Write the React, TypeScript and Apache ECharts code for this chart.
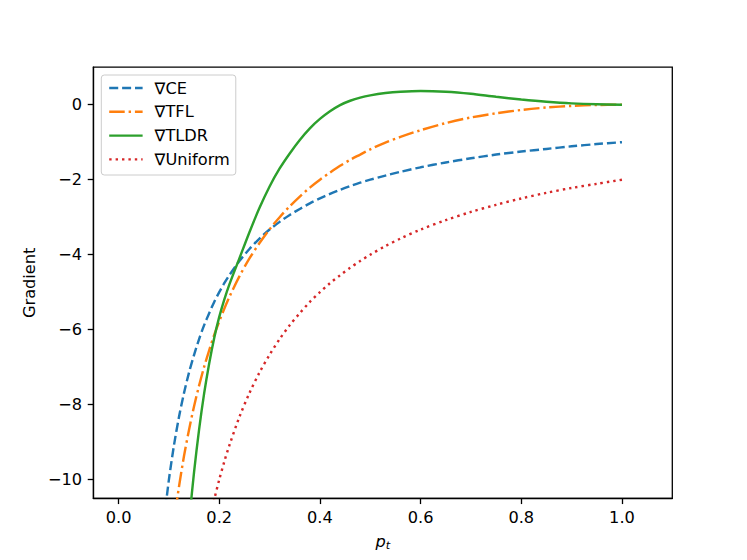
import React, { useEffect, useRef } from "react";
import * as echarts from "echarts";

const P = [0.09, 0.1, 0.11, 0.12, 0.13, 0.14, 0.15, 0.16, 0.17, 0.18, 0.19, 0.2, 0.21, 0.22, 0.24, 0.26, 0.28, 0.3, 0.32, 0.34, 0.36, 0.38, 0.4, 0.42, 0.44, 0.46, 0.48, 0.5, 0.53, 0.56, 0.6, 0.65, 0.7, 0.75, 0.8, 0.85, 0.9, 0.95, 1.0];

const CE = [-11.11, -10.0, -9.09, -8.33, -7.69, -7.14, -6.67, -6.25, -5.88, -5.56, -5.26, -5.0, -4.76, -4.55, -4.17, -3.85, -3.57, -3.33, -3.125, -2.94, -2.78, -2.63, -2.5, -2.38, -2.27, -2.17, -2.08, -2.0, -1.89, -1.79, -1.67, -1.54, -1.43, -1.33, -1.25, -1.18, -1.11, -1.05, -1.0];

const TFL = [null, -12.24, -11.13, -10.19, -9.37, -8.67, -8.04, -7.49, -6.99, -6.55, -6.14, -5.78, -5.44, -5.13, -4.58, -4.1, -3.69, -3.32, -3.0, -2.71, -2.45, -2.21, -2.0, -1.81, -1.63, -1.47, -1.33, -1.19, -1.01, -0.86, -0.68, -0.49, -0.34, -0.23, -0.14, -0.075, -0.032, -0.008, 0];

const TLDR = [null, null, null, null, null, -11.14, -9.79, -8.66, -7.7, -6.9, -6.22, -5.66, -5.2, -4.8, -4.1, -3.4, -2.75, -2.18, -1.7, -1.3, -0.94, -0.63, -0.38, -0.175, -0.01, 0.105, 0.19, 0.25, 0.31, 0.345, 0.365, 0.345, 0.29, 0.21, 0.14, 0.08, 0.035, 0.01, 0];

const UNIFORM = [null, null, null, null, null, null, null, null, -11.76, -11.11, -10.53, -10.0, -9.52, -9.09, -8.33, -7.69, -7.14, -6.67, -6.25, -5.88, -5.56, -5.26, -5.0, -4.76, -4.55, -4.35, -4.17, -4.0, -3.77, -3.57, -3.33, -3.08, -2.86, -2.67, -2.5, -2.35, -2.22, -2.11, -2.0];

const SERIES_NAMES = ["\u2207CE", "\u2207TFL", "\u2207TLDR", "\u2207Uniform"];
const X_TICKS = [0, 0.2, 0.4, 0.6, 0.8, 1.0];
const Y_TICKS = [-10, -8, -6, -4, -2, 0];

const FONT = "DejaVu Sans";
const LW = 2.43;

function pairs(ys: (number | null)[]) {
  return P.map((p, i) => [p, ys[i]]);
}

export default function App() {
  const ref = useRef<HTMLDivElement>(null);
  useEffect(() => {
    if (!ref.current) return;
    const chart = echarts.init(ref.current, undefined, { renderer: "svg" });
    const mk = (name: string, ys: (number | null)[], color: string, dash: any) => ({
      name,
      type: "line",
      data: pairs(ys),
      symbol: "none",
      showSymbol: false,
      smooth: 0.3,
      clip: true,
      lineStyle: { color, width: LW, type: dash, cap: "butt" },
      itemStyle: { color },
    });
    chart.setOption({
      animation: false,
      backgroundColor: "#ffffff",
      textStyle: { fontFamily: FONT },
      grid: {
        left: 93.4,
        right: 74.7,
        top: 67.2,
        bottom: 61.6,
        show: true,
        borderColor: "#000000",
        borderWidth: 1.3,
        backgroundColor: "transparent",
        containLabel: false,
        outerBoundsMode: "none",
      },
      legend: {
        orient: "vertical",
        left: 101.3,
        top: 75,
        data: SERIES_NAMES,
        itemWidth: 33.4,
        itemHeight: 16,
        itemGap: 7.8,
        padding: [5, 6, 7.6, 6.7],
        backgroundColor: "rgba(255,255,255,0.8)",
        borderColor: "#cccccc",
        borderWidth: 1,
        borderRadius: 3,
        itemStyle: { opacity: 0, borderWidth: 0 },
        lineStyle: { width: LW },
        textStyle: { fontFamily: FONT, fontSize: 16.2, color: "#000000", padding: [0, 0, 0, 7] },
      },
      xAxis: {
        type: "value",
        min: -0.05,
        max: 1.1,
        splitLine: { show: false },
        axisLine: { show: true, onZero: false, lineStyle: { color: "#000000", width: 1.3 } },
        axisTick: {
          show: true,
          length: 5.67,
          inside: false,
          customValues: X_TICKS,
          lineStyle: { color: "#000000", width: 1.3 },
        },
        axisLabel: {
          customValues: X_TICKS,
          margin: 11.3,
          fontFamily: FONT,
          fontSize: 16.2,
          color: "#000000",
          formatter: (v: number) => v.toFixed(1),
        },
        name: "{p|p}{t|t}",
        nameLocation: "middle",
        nameGap: 33,
        nameTextStyle: {
          rich: {
            p: { fontFamily: FONT, fontStyle: "italic", fontSize: 16.2, color: "#000000" },
            t: { fontFamily: FONT, fontStyle: "italic", fontSize: 11.3, color: "#000000", padding: [9, 0, 0, 0] },
          },
        },
      },
      yAxis: {
        type: "value",
        min: -10.5,
        max: 1,
        splitLine: { show: false },
        axisLine: { show: true, onZero: false, lineStyle: { color: "#000000", width: 1.3 } },
        axisTick: {
          show: true,
          length: 5.67,
          inside: false,
          customValues: Y_TICKS,
          lineStyle: { color: "#000000", width: 1.3 },
        },
        axisLabel: {
          customValues: Y_TICKS,
          margin: 11.3,
          fontFamily: FONT,
          fontSize: 16.2,
          color: "#000000",
          formatter: (v: number) => String(v).replace("-", "\u2212"),
        },
        name: "Gradient",
        nameLocation: "middle",
        nameGap: 49,
        nameRotate: 90,
        nameTextStyle: { fontFamily: FONT, fontSize: 16.2, color: "#000000" },
      },
      series: [
        mk(SERIES_NAMES[0], CE, "#1f77b4", [9.0, 3.9]),
        mk(SERIES_NAMES[1], TFL, "#ff7f0e", [15.5, 3.9, 2.4, 3.9]),
        mk(SERIES_NAMES[2], TLDR, "#2ca02c", "solid"),
        mk(SERIES_NAMES[3], UNIFORM, "#d62728", [2.4, 4.0]),
      ],
    });
    return () => chart.dispose();
  }, []);
  return (
    <div
      ref={ref}
      style={{ position: "absolute", left: 0, top: 0, width: 747, height: 560 }}
    />
  );
}
